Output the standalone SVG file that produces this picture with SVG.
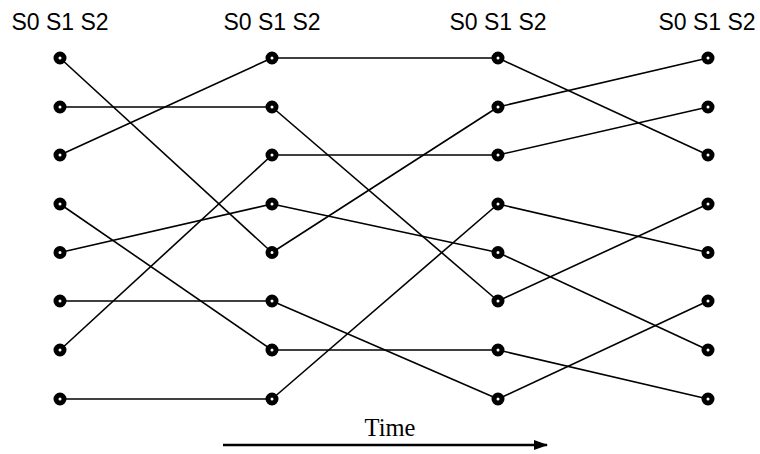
<svg xmlns="http://www.w3.org/2000/svg" width="760" height="454" viewBox="0 0 760 454">
<style>
.hdr{font-family:"Liberation Sans",Arial,sans-serif;font-size:23px;fill:#000;text-anchor:middle}
.time{font-family:"Liberation Serif","Times New Roman",serif;font-size:24.5px;fill:#000;text-anchor:middle}
.edge{stroke:#000;stroke-width:1.6;fill:none}
.node circle{fill:#fff;stroke:#000;stroke-width:5}
</style>
<defs>
<marker id="ah" markerWidth="14" markerHeight="10" refX="13" refY="5" orient="auto" markerUnits="userSpaceOnUse">
<path d="M0,0 L14,5 L0,10 Z" fill="#000"/>
</marker>
</defs>
<rect width="760" height="454" fill="#fff"/>
<g id="headers">
<text class="hdr" x="60" y="30">S0 S1 S2</text>
<text class="hdr" x="272" y="30">S0 S1 S2</text>
<text class="hdr" x="498" y="30">S0 S1 S2</text>
<text class="hdr" x="707" y="30">S0 S1 S2</text>
</g>
<g id="connectors" class="edge">
<line x1="60" y1="58" x2="272" y2="252.5"/>
<line x1="60" y1="107" x2="272" y2="107"/>
<line x1="60" y1="155" x2="272" y2="58"/>
<line x1="60" y1="204" x2="272" y2="350"/>
<line x1="60" y1="252.5" x2="272" y2="204"/>
<line x1="60" y1="301" x2="272" y2="301"/>
<line x1="60" y1="350" x2="272" y2="155"/>
<line x1="60" y1="399" x2="272" y2="399"/>
<line x1="272" y1="58" x2="498" y2="58"/>
<line x1="272" y1="107" x2="498" y2="301"/>
<line x1="272" y1="155" x2="498" y2="155"/>
<line x1="272" y1="204" x2="498" y2="252.5"/>
<line x1="272" y1="252.5" x2="498" y2="107"/>
<line x1="272" y1="301" x2="498" y2="399"/>
<line x1="272" y1="350" x2="498" y2="350"/>
<line x1="272" y1="399" x2="498" y2="204"/>
<line x1="498" y1="58" x2="708" y2="155"/>
<line x1="498" y1="107" x2="708" y2="58"/>
<line x1="498" y1="155" x2="708" y2="107"/>
<line x1="498" y1="204" x2="708" y2="252.5"/>
<line x1="498" y1="252.5" x2="708" y2="350"/>
<line x1="498" y1="301" x2="708" y2="204"/>
<line x1="498" y1="350" x2="708" y2="399"/>
<line x1="498" y1="399" x2="708" y2="301"/>
</g>
<g id="col0" class="node">
<g id="n0_0"><circle cx="60" cy="58" r="4"/></g>
<g id="n0_1"><circle cx="60" cy="107" r="4"/></g>
<g id="n0_2"><circle cx="60" cy="155" r="4"/></g>
<g id="n0_3"><circle cx="60" cy="204" r="4"/></g>
<g id="n0_4"><circle cx="60" cy="252.5" r="4"/></g>
<g id="n0_5"><circle cx="60" cy="301" r="4"/></g>
<g id="n0_6"><circle cx="60" cy="350" r="4"/></g>
<g id="n0_7"><circle cx="60" cy="399" r="4"/></g>
</g>
<g id="col1" class="node">
<g id="n1_0"><circle cx="272" cy="58" r="4"/></g>
<g id="n1_1"><circle cx="272" cy="107" r="4"/></g>
<g id="n1_2"><circle cx="272" cy="155" r="4"/></g>
<g id="n1_3"><circle cx="272" cy="204" r="4"/></g>
<g id="n1_4"><circle cx="272" cy="252.5" r="4"/></g>
<g id="n1_5"><circle cx="272" cy="301" r="4"/></g>
<g id="n1_6"><circle cx="272" cy="350" r="4"/></g>
<g id="n1_7"><circle cx="272" cy="399" r="4"/></g>
</g>
<g id="col2" class="node">
<g id="n2_0"><circle cx="498" cy="58" r="4"/></g>
<g id="n2_1"><circle cx="498" cy="107" r="4"/></g>
<g id="n2_2"><circle cx="498" cy="155" r="4"/></g>
<g id="n2_3"><circle cx="498" cy="204" r="4"/></g>
<g id="n2_4"><circle cx="498" cy="252.5" r="4"/></g>
<g id="n2_5"><circle cx="498" cy="301" r="4"/></g>
<g id="n2_6"><circle cx="498" cy="350" r="4"/></g>
<g id="n2_7"><circle cx="498" cy="399" r="4"/></g>
</g>
<g id="col3" class="node">
<g id="n3_0"><circle cx="708" cy="58" r="4"/></g>
<g id="n3_1"><circle cx="708" cy="107" r="4"/></g>
<g id="n3_2"><circle cx="708" cy="155" r="4"/></g>
<g id="n3_3"><circle cx="708" cy="204" r="4"/></g>
<g id="n3_4"><circle cx="708" cy="252.5" r="4"/></g>
<g id="n3_5"><circle cx="708" cy="301" r="4"/></g>
<g id="n3_6"><circle cx="708" cy="350" r="4"/></g>
<g id="n3_7"><circle cx="708" cy="399" r="4"/></g>
</g>
<g id="time-axis">
<text class="time" x="390" y="436">Time</text>
<line x1="223" y1="445" x2="547" y2="445" stroke="#000" stroke-width="2.4" marker-end="url(#ah)"/>
</g>
</svg>
